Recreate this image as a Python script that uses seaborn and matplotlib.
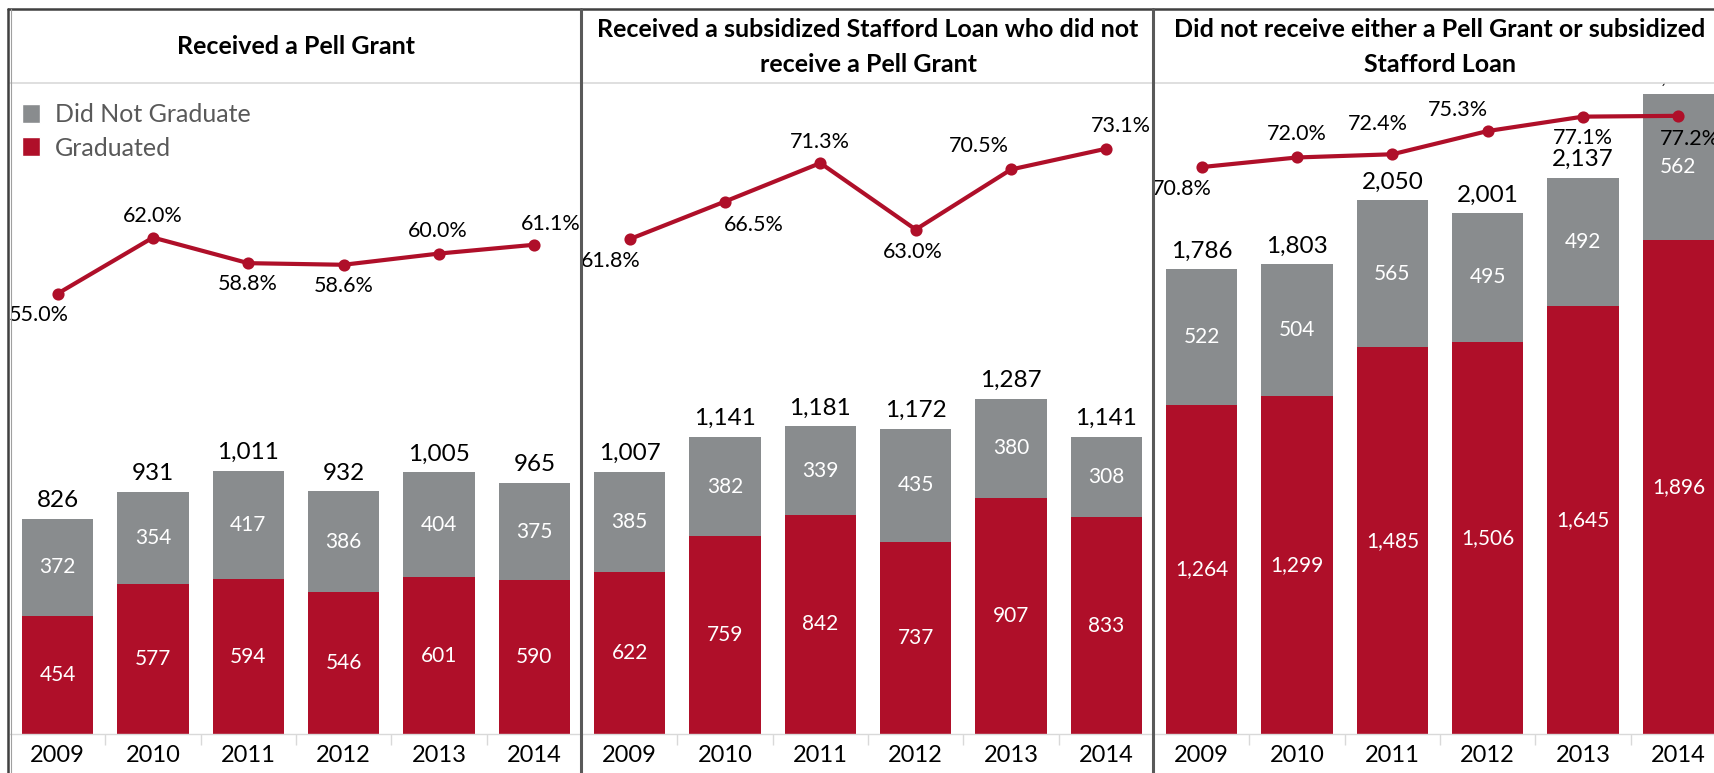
import matplotlib
matplotlib.use("Agg")
import matplotlib.pyplot as plt
from matplotlib.patches import Patch
from matplotlib.lines import Line2D
import seaborn as sns
import pandas as pd
import numpy as np

years = ["2009", "2010", "2011", "2012", "2013", "2014"]

titles = [
    "Received a Pell Grant",
    "Received a subsidized Stafford Loan who did not\nreceive a Pell Grant",
    "Did not receive either a Pell Grant or subsidized\nStafford Loan",
]

# students who graduated / did not graduate
pell_grad = [454, 577, 594, 546, 601, 590]
pell_not = [372, 354, 417, 386, 404, 375]
stafford_grad = [622, 759, 842, 737, 907, 833]
stafford_not = [385, 382, 339, 435, 380, 308]
neither_grad = [1264, 1299, 1485, 1506, 1645, 1896]
neither_not = [522, 504, 565, 495, 492, 562]

# graduation rate
pell_rate = [0.550, 0.620, 0.588, 0.586, 0.600, 0.611]
stafford_rate = [0.618, 0.665, 0.713, 0.630, 0.705, 0.731]
neither_rate = [0.708, 0.720, 0.724, 0.753, 0.771, 0.772]

# where the rate labels sit relative to their point (pixels, dx / dy up)
pell_lbl = [(-19, -21), (0, 22), (-1, -21), (0, -21), (-1, 23), (16, 21)]
stafford_lbl = [(-19, -22), (29, -23), (0, 21), (-3, -22), (-32, 23), (15, 23)]
neither_lbl = [(-20, -22), (0, 23), (-14, 30), (-30, 21), (0, -21), (12, -23)]

panels = [
    (pell_grad, pell_not, pell_rate, pell_lbl),
    (stafford_grad, stafford_not, stafford_rate, stafford_lbl),
    (neither_grad, neither_not, neither_rate, neither_lbl),
]

red = "#AF0F29"
gray = "#898C8E"
light = "#D9D9D9"
frame = "#595959"

sns.set_theme(style="white")
plt.rcParams["font.family"] = ["Lato", "DejaVu Sans"]

W, H = 1714, 773
fig = plt.figure(figsize=(W / 100, H / 100), dpi=100)

panel_left = [10, 582, 1154]
panel_w = 572
top, bottom = 83, 734
px = 0.72  # pixels -> points


def fx(x):
    return x / W


def fy(y):
    return 1 - y / H


for i, (grad, notg, rate, lbl) in enumerate(panels):
    ax = fig.add_axes([fx(panel_left[i]), fy(bottom), panel_w / W, (bottom - top) / H])
    total = [g + n for g, n in zip(grad, notg)]
    df = pd.DataFrame({"year": years, "total": total, "grad": grad, "not": notg})

    sns.barplot(data=df, x="year", y="total", color=gray, width=0.75,
                saturation=1, linewidth=0, ax=ax)
    sns.barplot(data=df, x="year", y="grad", color=red, width=0.75,
                saturation=1, linewidth=0, ax=ax)
    ax.set_ylim(0, 2500)
    ax.set_xlim(-0.5, 5.5)

    for j in range(len(years)):
        ax.text(j, grad[j] / 2, f"{grad[j]:,}", ha="center", va="center",
                color="white", fontsize=15)
        ax.text(j, grad[j] + notg[j] / 2, f"{notg[j]:,}", ha="center",
                va="center", color="white", fontsize=15)
        ax.annotate(f"{total[j]:,}", (j, total[j]), xytext=(0, 13),
                    textcoords="offset points", ha="center", va="center",
                    fontsize=17.5, color="black", clip_on=True)

    ax2 = ax.twinx()
    sns.pointplot(x=years, y=rate, color=red, markers="o", linestyles="-",
                  markersize=6.5, linewidth=3, errorbar=None, ax=ax2)
    ax2.set_ylim(0, 0.813)
    ax2.set_yticks([])
    ax2.set_ylabel("")
    for s in ax2.spines.values():
        s.set_visible(False)
    for j, r in enumerate(rate):
        dx, dy = lbl[j]
        ax2.annotate(f"{r * 100:.1f}%", (j, r), xytext=(dx * px, dy * px),
                     textcoords="offset points", ha="center", va="center",
                     fontsize=15.5, color="black")

    ax.set_xticks(range(len(years)))
    ax.set_xticklabels(years)
    ax.set_xticks(np.arange(0.5, 5.5, 1), minor=True)
    ax.set_yticks([])
    ax.set_xlabel("")
    ax.set_ylabel("")
    ax.tick_params(axis="x", which="major", length=0, labelsize=17, pad=8,
                   labelcolor="black")
    ax.tick_params(axis="x", which="minor", length=8, width=1, color=light,
                   direction="out", bottom=True)
    for s in ["top", "right", "left"]:
        ax.spines[s].set_visible(False)
    ax.spines["bottom"].set_color(light)
    ax.spines["bottom"].set_linewidth(1)

    fig.text(fx(panel_left[i] + panel_w / 2), fy(47), titles[i], ha="center",
             va="center", fontsize=18, fontweight="bold", linespacing=1.65,
             color="black")

    if i == 0:
        handles = [Patch(facecolor=gray, label="Did Not Graduate"),
                   Patch(facecolor=red, label="Graduated")]
        ax.legend(handles=handles, loc="upper left",
                  bbox_to_anchor=(12 / panel_w, (bottom - 103) / (bottom - top)),
                  frameon=False, fontsize=18, labelcolor=frame,
                  handlelength=0.72, handleheight=0.78, handletextpad=0.6,
                  labelspacing=0.42, borderpad=0, borderaxespad=0)

# frame: title band, outer border, panel dividers
fig.add_artist(Line2D([fx(10), 1], [fy(top), fy(top)], color=light, lw=1.2,
                      transform=fig.transFigure))
fig.add_artist(Line2D([fx(8), 1], [fy(9), fy(9)], color="#404040", lw=1.8,
                      transform=fig.transFigure))
fig.add_artist(Line2D([fx(8), fx(8)], [fy(9), 0], color="#404040", lw=1.8,
                      transform=fig.transFigure))
fig.add_artist(Line2D([fx(11), fx(11)], [fy(9), 0], color="#A0A0A0", lw=0.8,
                      transform=fig.transFigure))
for x in [581, 1153]:
    fig.add_artist(Line2D([fx(x), fx(x)], [fy(9), 0], color=frame, lw=2.2,
                          transform=fig.transFigure))

fig.savefig("out.png", dpi=100)
